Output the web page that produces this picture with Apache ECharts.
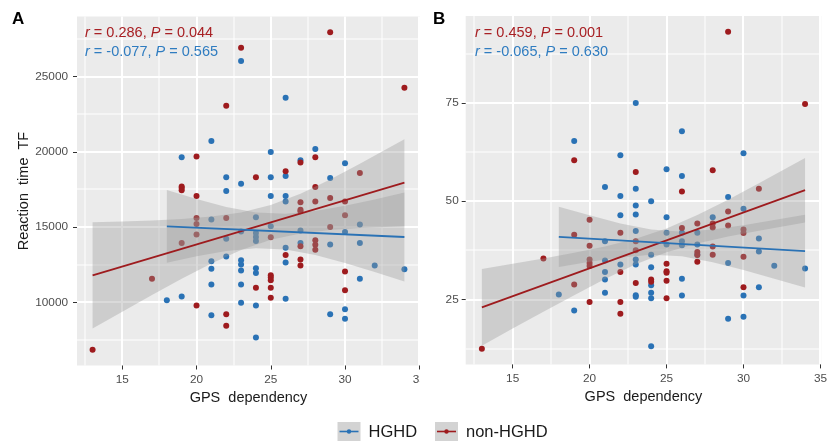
<!DOCTYPE html>
<html><head><meta charset="utf-8">
<script src="https://cdn.jsdelivr.net/npm/echarts@6/dist/echarts.min.js"></script>
<style>html,body{margin:0;padding:0;background:#fff}#c{width:830px;height:441px}</style>
</head><body><div id="c"></div>
<script>
const FONT = '"Liberation Sans", Arial, sans-serif';
const BLUE = '#2a72b5';
const RED = '#9e1b1e';

// ---- tick labels / grid values ----
const xTicks = [15, 20, 25, 30, 35];
const xMinor = [12.5, 17.5, 22.5, 27.5, 32.5];
const yTicksA = [10000, 15000, 20000, 25000];
const yMinorA = [7500, 12500, 17500, 22500, 27500];
const yTicksB = [25, 50, 75];
const yMinorB = [12.5, 37.5, 62.5, 87.5];
const legendNames = ['HGHD', 'non-HGHD'];

// ---- Panel A: Reaction time TF ----
const hghdA = [[18,10130],[19,19650],[19,10390],
  [21,20720],[21,15510],[21,12720],[21,12230],[21,11190],[21,9130],
  [22,18320],[22,17400],[22,14230],[22,13050],
  [23,26040],[23,17890],[23,14700],[23,12790],[23,12520],[23,12120],[23,11190],[23,9970],
  [24,15660],[24,14600],[24,14340],[24,14070],[24,12270],[24,11940],[24,9790],[24,7650],
  [25,19990],[25,18320],[25,17060],[25,15050],
  [26,23600],[26,18390],[26,17060],[26,16710],[26,13630],[26,12650],[26,10240],
  [27,19450],[27,14780],[27,13940],[28,20190],
  [29,18260],[29,13850],[29,9200],
  [30,19250],[30,14670],[30,9530],[30,8910],
  [31,15180],[31,13940],[31,11570],[32,12450],[34,12190]];
const nonA = [[13,6850],[17,11570],[19,17700],[19,17600],[19,17450],[19,13940],
  [20,19700],[20,17060],[20,15600],[20,15200],[20,14500],[20,9790],
  [22,23070],[22,15600],[22,9200],[22,8440],[23,26930],[24,18320],[24,10970],
  [25,14330],[25,11790],[25,11640],[25,11460],[25,10970],[25,10300],
  [26,18720],[26,13150],
  [27,19300],[27,16660],[27,16160],[27,16050],[27,13720],[27,12850],[27,12450],
  [28,19650],[28,17660],[28,16710],[28,14120],[28,13830],[28,13500],
  [29,27950],[29,16930],[29,15000],
  [30,16710],[30,15780],[30,12050],[30,10800],[31,18590],[34,24270]];
const fitNonA = [[13,11790],[34,17950]];
const fitHghdA = [[18,15050],[34,14340]];
const bandNonA_x  = [13,15,17,19,21,23,25,27,29,31,34];
const bandNonA_lo = [8256,9377,10481,11557,12575,13476,14158,14573,14801,14935,15055];
const bandNonA_hi = [15324,15377,15445,15543,15699,15970,16462,17221,18165,19205,20845];
const bandHghdA_x  = [18,20,22,24,26,28,30,32,34];
const bandHghdA_lo = [12630,13053,13402,13594,13508,13144,12619,12018,11383];
const bandHghdA_hi = [17470,16869,16342,15974,15882,16068,16415,16838,17297];
const statNonA = ['0.286', '0.044'];
const statHghdA = ['-0.077', '0.565'];

// ---- Panel B: Fixation TF ----
const hghdB = [[18,26.3],[19,65.3],[19,22.2],
  [21,53.6],[21,39.8],[21,34.9],[21,32.0],[21,30.1],[21,26.7],
  [22,61.7],[22,51.3],[22,46.4],[22,33.9],
  [23,75.0],[23,53.2],[23,48.9],[23,46.6],[23,42.4],[23,35.2],[23,33.9],[23,26.1],[23,25.7],
  [24,50.0],[24,36.4],[24,33.2],[24,28.6],[24,26.7],[24,25.3],[24,13.1],
  [25,58.1],[25,45.9],[25,42.0],[25,39.0],
  [26,67.8],[26,56.4],[26,42.0],[26,39.8],[26,38.8],[26,30.3],[26,26.0],
  [27,42.0],[27,39.0],[27,36.4],[28,45.9],
  [29,51.1],[29,34.3],[29,20.1],
  [30,62.2],[30,48.1],[30,26.0],[30,20.6],
  [31,40.5],[31,37.2],[31,28.1],[32,33.6],[34,32.9]];
const nonB = [[13,12.5],[17,35.4],[19,60.4],[19,41.5],[19,28.8],
  [20,45.3],[20,38.7],[20,35.2],[20,34.3],[20,33.5],[20,24.4],
  [22,42.0],[22,32.0],[22,24.4],[22,21.4],
  [23,57.4],[23,39.8],[23,37.5],[23,29.2],[24,30.1],[24,29.5],
  [25,34.1],[25,32.2],[25,31.8],[25,29.8],[25,25.3],
  [26,52.5],[26,43.2],[27,44.3],[27,37.1],[27,36.3],[27,34.6],
  [28,57.9],[28,44.3],[28,43.3],[28,38.5],[28,36.4],
  [29,93.1],[29,47.4],[29,43.8],
  [30,42.8],[30,41.9],[30,35.9],[30,28.1],[31,53.2],[34,74.7]];
const fitNonB = [[13,23.0],[34,52.8]];
const fitHghdB = [[18,40.95],[34,37.3]];
const bandNonB_x  = [13,15,17,19,21,23,25,27,29,31,34];
const bandNonB_lo = [13.25,17.6,21.9,26.1,30.2,33.95,37.0,39.27,41.0,42.5,44.6];
const bandNonB_hi = [32.75,34.1,35.4,36.9,38.5,40.43,43.05,46.47,50.4,54.56,61.0];
const bandHghdB_x  = [18,20,22,24,26,28,30,32,34];
const bandHghdB_lo = [33.3,34.6,35.7,36.4,36.0,34.5,32.5,30.3,28.05];
const bandHghdB_hi = [48.6,46.4,44.35,42.8,42.25,42.8,43.9,45.2,46.55];
const statNonB = ['0.459', '0.001'];
const statHghdB = ['-0.065', '0.630'];

const X_MIN = 11.95, X_MAX = 35.05;
const Y_A = [5795, 29005];
const Y_B = [8.5, 97.1];

const chart = echarts.init(document.getElementById('c'), null, {renderer: 'canvas', width: 830, height: 441});

function plain(v) { return String(v); }
function dataX(grid, name) {
  return {gridIndex: grid, type: 'value', min: X_MIN, max: X_MAX, z: 6,
    axisLine: {show: false},
    axisTick: {show: true, customValues: xTicks, length: 4, lineStyle: {color: '#333', width: 1}},
    axisLabel: {customValues: xTicks, formatter: plain, color: '#4D4D4D', fontSize: 11.8, margin: 8, fontFamily: FONT},
    splitLine: {show: false},
    name: name, nameLocation: 'middle', nameGap: 22,
    nameTextStyle: {color: '#1a1a1a', fontSize: 14.5, fontFamily: FONT}};
}
function dataY(grid, ext, ticks, name, gap, margin) {
  return {gridIndex: grid, type: 'value', min: ext[0], max: ext[1], z: 6,
    axisLine: {show: false},
    axisTick: {show: true, customValues: ticks, length: 4, lineStyle: {color: '#333', width: 1}},
    axisLabel: {customValues: ticks, formatter: plain, color: '#4D4D4D', fontSize: 11.8, margin: margin, fontFamily: FONT},
    splitLine: {show: false},
    name: name, nameLocation: 'middle', nameGap: gap,
    nameTextStyle: {color: '#1a1a1a', fontSize: 14.5, fontFamily: FONT}};
}
function gridLines(ax, yExt, yMaj, yMin) {
  return {type: 'custom', xAxisIndex: ax, yAxisIndex: ax, z: 1, silent: true, clip: false,
    data: [[X_MIN, yExt[0]]],
    renderItem: function (params, api) {
      const children = [];
      const tl = api.coord([X_MIN, yExt[1]]);
      const br = api.coord([X_MAX, yExt[0]]);
      function add(vals, vertical, w) {
        vals.forEach(function (v) {
          if (vertical) {
            const c = Math.round(api.coord([v, yExt[0]])[0]);
            children.push({type: 'rect', shape: {x: c - w / 2, y: tl[1], width: w, height: br[1] - tl[1]},
              style: {fill: '#ffffff'}});
          } else {
            const c = Math.round(api.coord([X_MIN, v])[1]);
            children.push({type: 'rect', shape: {x: tl[0], y: c - w / 2, width: br[0] - tl[0], height: w},
              style: {fill: '#ffffff'}});
          }
        });
      }
      add(xMinor, true, 1); add(yMin, false, 1);
      add(xTicks, true, 2); add(yMaj, false, 2);
      return {type: 'group', children: children};
    }};
}
function scatter(ax, data, color) {
  return {type: 'scatter', xAxisIndex: ax, yAxisIndex: ax, data: data, symbolSize: 6,
    itemStyle: {color: color, opacity: 1}, z: 2, silent: true};
}
function band(ax, xs, lo, hi) {
  return {type: 'custom', xAxisIndex: ax, yAxisIndex: ax, z: 3, silent: true,
    data: [[xs[0], lo[0]]],
    renderItem: function (params, api) {
      const pts = [];
      for (let i = 0; i < xs.length; i++) pts.push(api.coord([xs[i], hi[i]]));
      for (let i = xs.length - 1; i >= 0; i--) pts.push(api.coord([xs[i], lo[i]]));
      return {type: 'polygon', shape: {points: pts}, style: {fill: 'rgba(153,153,153,0.36)'}};
    }};
}
function fit(ax, data, color) {
  return {type: 'line', xAxisIndex: ax, yAxisIndex: ax, data: data, symbol: 'none', z: 4, silent: true,
    lineStyle: {color: color, width: 1.8}};
}
function statText(x, y, vals, color) {
  return {type: 'text', x: x, y: y, z: 20, silent: true,
    style: {text: '{i|r} = ' + vals[0] + ', {i|P} = ' + vals[1], fill: color,
      fontSize: 14.5, fontFamily: FONT, verticalAlign: 'middle', textVerticalAlign: 'middle',
      rich: {i: {fontStyle: 'italic', fontSize: 14.5, fontFamily: FONT, fill: color}}}};
}
function legendItem(x, color, label) {
  return [
    {type: 'rect', shape: {x: x, y: 422, width: 23, height: 19}, style: {fill: '#D3D3D3'}, z: 20, silent: true},
    {type: 'line', shape: {x1: x + 2, y1: 431.5, x2: x + 21, y2: 431.5}, style: {stroke: color, lineWidth: 1.6}, z: 21, silent: true},
    {type: 'circle', shape: {cx: x + 11.5, cy: 431.5, r: 2.2}, style: {fill: color}, z: 22, silent: true},
    {type: 'text', x: x + 31, y: 432.5, z: 22, silent: true,
      style: {text: label, fill: '#1a1a1a', fontSize: 16.5, fontFamily: FONT, verticalAlign: 'middle', textVerticalAlign: 'middle'}}
  ];
}

const option = {
  backgroundColor: '#ffffff',
  animation: false,
  grid: [
    {left: 77, top: 16.5, width: 343, height: 349, show: true, backgroundColor: '#EBEBEB', borderWidth: 0, z: 0},
    {left: 465.7, top: 16, width: 367.1, height: 348.4, show: true, backgroundColor: '#EBEBEB', borderWidth: 0, z: 0}
  ],
  xAxis: [
    dataX(0, 'GPS  dependency'),
    dataX(1, 'GPS  dependency')
  ],
  yAxis: [
    dataY(0, Y_A, yTicksA, 'Reaction  time  TF', 45, 9),
    dataY(1, Y_B, yTicksB, 'Fixation  TF', 23, 7)
  ],
  series: [
    gridLines(0, Y_A, yTicksA, yMinorA),
    scatter(0, hghdA, BLUE), scatter(0, nonA, RED),
    band(0, bandNonA_x, bandNonA_lo, bandNonA_hi),
    band(0, bandHghdA_x, bandHghdA_lo, bandHghdA_hi),
    fit(0, fitNonA, RED), fit(0, fitHghdA, BLUE),
    gridLines(1, Y_B, yTicksB, yMinorB),
    scatter(1, hghdB, BLUE), scatter(1, nonB, RED),
    band(1, bandNonB_x, bandNonB_lo, bandNonB_hi),
    band(1, bandHghdB_x, bandHghdB_lo, bandHghdB_hi),
    fit(1, fitNonB, RED), fit(1, fitHghdB, BLUE)
  ],
  graphic: [
    {type: 'rect', shape: {x: 420, y: 0, width: 20, height: 441}, style: {fill: '#ffffff'}, z: 8, silent: true},
    {type: 'text', x: 12, y: 19, z: 20, silent: true,
      style: {text: 'A', fill: '#000', fontSize: 17, fontWeight: 'bold', fontFamily: FONT, verticalAlign: 'middle', textVerticalAlign: 'middle'}},
    {type: 'text', x: 433, y: 19, z: 20, silent: true,
      style: {text: 'B', fill: '#000', fontSize: 17, fontWeight: 'bold', fontFamily: FONT, verticalAlign: 'middle', textVerticalAlign: 'middle'}},
    statText(85, 33, statNonA, '#a82024'),
    statText(85, 51.5, statHghdA, '#2f7cc0'),
    statText(475, 33, statNonB, '#a82024'),
    statText(475, 51.5, statHghdB, '#2f7cc0')
  ].concat(legendItem(337.5, BLUE, legendNames[0]), legendItem(435, RED, legendNames[1]))
};
chart.setOption(option);
</script>
</body></html>
